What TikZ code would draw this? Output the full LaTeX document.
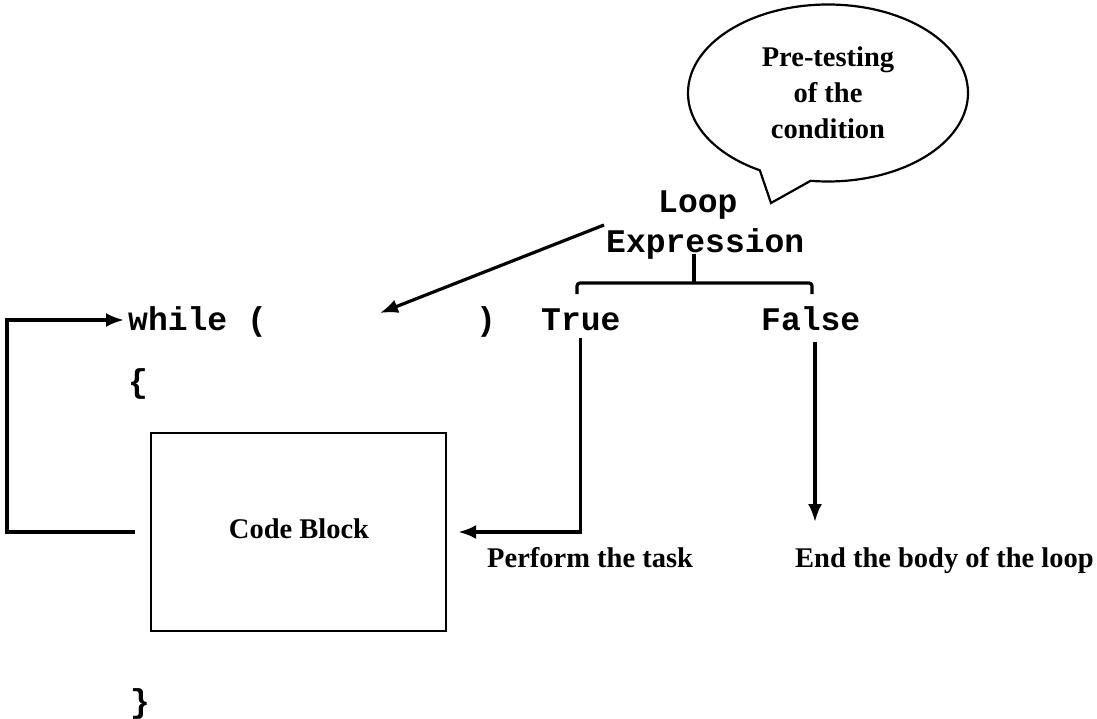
\documentclass[tikz,border=0pt]{standalone}
\usepackage{fontspec}
\setmainfont{Liberation Serif}
\setmonofont{Liberation Mono}
\usetikzlibrary{arrows.meta,shapes.callouts}
\begin{document}
\begin{tikzpicture}[x=1pt,y=-1pt,
  code/.style={font=\ttfamily\bfseries\fontsize{33}{40}\selectfont, inner sep=0pt, anchor=base west},
  note/.style={font=\bfseries\fontsize{28.5}{36}\selectfont, inner sep=0pt},
  conn/.style={line width=3.2pt, -{Latex[length=18pt,width=14pt]}},
  brace/.style={line width=3.2pt, rounded corners=3pt},
  ]
\useasboundingbox (0,0) rectangle (1097,719);

% the while statement
\node[code] (while) at (128,330) {while (};
\node[code] (close) at (476,330) {)};
\node[code] (true)  at (541,330) {True};
\node[code] (false) at (761,330) {False};
\node[code] (open)  at (128,392) {\{};
\node[code] (shut)  at (130,712) {\}};

% the condition
\node[code] (loop) at (658,213) {Loop};
\node[code] (expr) at (606,253) {Expression};

% speech bubble
\node[ellipse callout, draw, line width=2.2pt, minimum width=280pt, minimum height=177pt,
      callout absolute pointer={(771,203)}, callout pointer arc=22,
      align=center, note] (bubble) at (828,93) {Pre-testing\\of the\\condition};

% body of the loop
\node[draw, line width=2.4pt, minimum width=295pt, minimum height=198pt, inner sep=0pt] (block) at (298.5,532) {};
\node[note, anchor=base] (blocktext) at (299,538) {Code Block};

% outcomes
\node[note, anchor=base west] (perform) at (487,567) {Perform the task};
\node[note, anchor=base west] (endbody) at (795,567) {End the body of the loop};

% brace under the condition
\draw[brace] (577,294) |- (812,283) -- (812,294);
\draw[line width=3.2pt] (694,283) -- (694,254);

% connectors
\coordinate (exprtail) at (604,225);
\coordinate (gap) at (380,313);
\coordinate (whilein) at (124,320);
\coordinate (fstart) at (815,342);
\coordinate (fend) at (815,522);

\draw[conn] (exprtail) -- (gap);
\draw[conn] ([xshift=-15pt]block.west) -| (7,320) -- (whilein);
\draw[conn] ([yshift=-7pt]true.south) |- ([xshift=11pt]block.east);
\draw[conn] (fstart) -- (fend);
\end{tikzpicture}
\end{document}
